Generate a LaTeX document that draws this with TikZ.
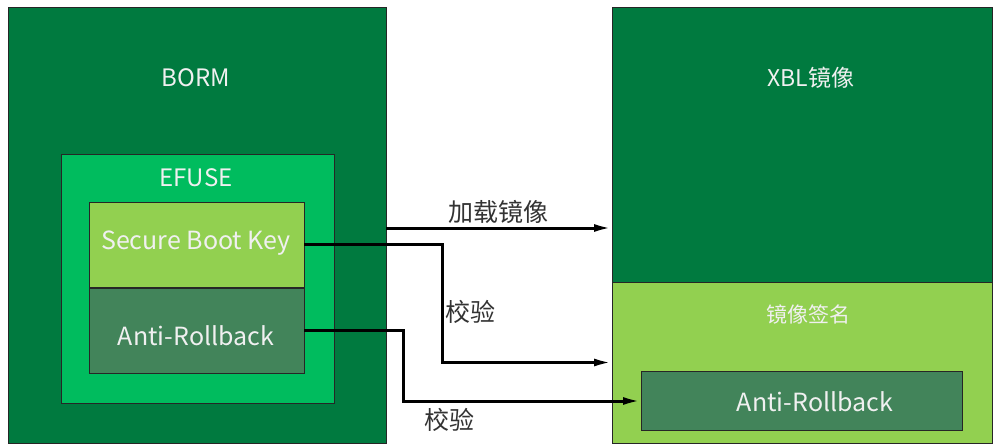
\documentclass[tikz,border=0pt]{standalone}
\usepackage{fontspec}
\setmainfont{Noto Sans CJK SC}
\usetikzlibrary{arrows.meta}
\definecolor{dkgreen}{HTML}{007A3F}
\definecolor{efgreen}{HTML}{00BC5E}
\definecolor{ltgreen}{HTML}{92D050}
\definecolor{argreen}{HTML}{42845A}
\definecolor{txtwhite}{HTML}{F0F0F0}
\tikzset{
  box/.style={draw=black!85, line width=1pt, inner sep=0pt, outer sep=0pt},
  boxtext/.style={text=txtwhite, font=\fontsize{25}{28}\selectfont, inner sep=0pt},
  captext/.style={boxtext, font=\fontsize{24}{28}\selectfont},
  lbl/.style={text=black!80, font=\fontsize{25}{28}\selectfont, inner sep=0pt},
  conn/.style={line width=3pt, -{Latex[length=18pt,width=8pt]}}
}
\begin{document}
\begin{tikzpicture}[x=1pt,y=-1pt]
\useasboundingbox[fill=white] (0,0) rectangle (995,445);
% left side
\node[box, fill=dkgreen, minimum width=378pt, minimum height=436pt] (borm) at (197,225) {};
\node[box, fill=efgreen, minimum width=273pt, minimum height=249pt] (efuse) at (197.5,278.5) {};
\node[box, fill=ltgreen, minimum width=215pt, minimum height=85pt] (sbk) at (196.5,244.5) {};
\node[box, fill=argreen, minimum width=215pt, minimum height=85pt] (ar) at (196.5,330.5) {};
\node[captext] (bormt) at (196,78) {BORM};
\node[captext] (efuset) at (196,178) {EFUSE};
\node[boxtext] (sbkt) at (196,243) {Secure Boot Key};
\node[boxtext] (art) at (196,336) {Anti-Rollback};
% right side
\node[box, fill=dkgreen, minimum width=380pt, minimum height=275pt] (xbl) at (802,144.5) {};
\node[box, fill=ltgreen, minimum width=380pt, minimum height=161pt] (sig) at (802,362.5) {};
\node[box, fill=argreen, minimum width=321pt, minimum height=59pt] (ar2) at (801.5,401) {};
\node[boxtext, font=\fontsize{23}{26}\selectfont] (xblt) at (811,78) {XBL镜像};
\node[boxtext, font=\fontsize{21}{24}\selectfont] (sigt) at (808,314) {镜像签名};
\node[boxtext] (ar2t) at (815,402) {Anti-Rollback};
% connectors
\coordinate (yl) at (0,228);
\coordinate (x2) at (442,0);
\coordinate (x3) at (403,0);
\draw[conn] (borm.east |- yl) -- (xbl.west |- yl);
\draw[conn] (sbk.east) -- (sbk.east -| x2) |- (sig.west);
\draw[conn] (ar.east) -- (ar.east -| x3) |- (ar2.west);
% labels
\node[lbl] (l1) at (498,212) {加载镜像};
\node[lbl] (l2) at (470,312) {校验};
\node[lbl] (l3) at (449,420) {校验};
\end{tikzpicture}
\end{document}
